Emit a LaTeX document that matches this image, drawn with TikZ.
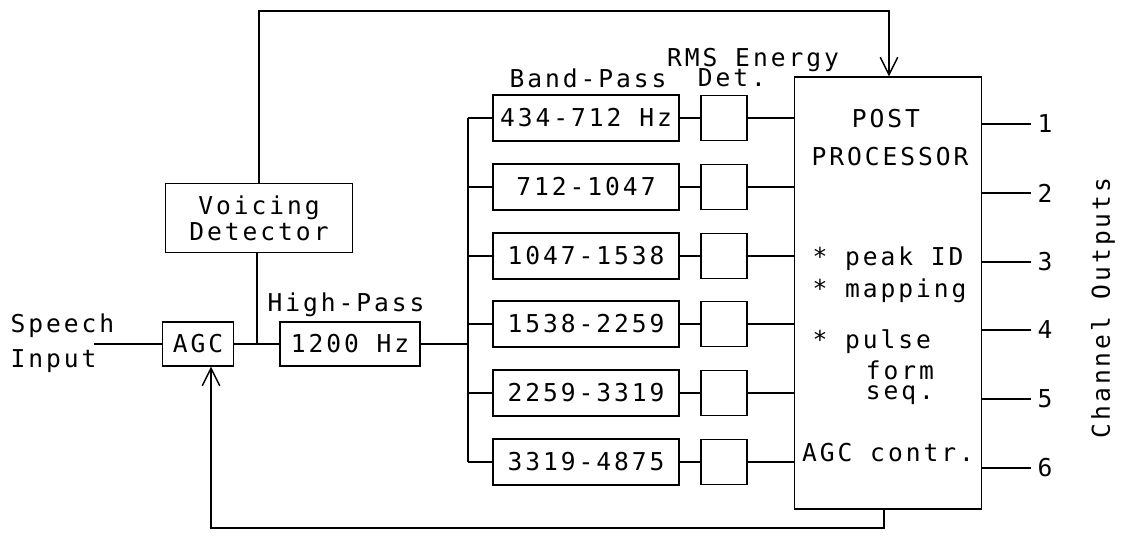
\documentclass[tikz,border=0pt]{standalone}
\usepackage{fontspec}
\usetikzlibrary{arrows.meta}
\newfontfamily\plotfont[LetterSpace=12]{DejaVu Sans Mono}

\begin{document}
\begin{tikzpicture}[x=0.02cm,y=-0.02cm,line width=0.8pt,
  font=\plotfont\fontsize{14}{15}\selectfont,
  box/.style={draw,inner sep=0pt},
  fb/.style={-{Straight Barb[length=10pt,width=10pt]}}]
\useasboundingbox (0,0) rectangle (1122,535);
% input side
\node[align=left,anchor=west](spin) at (4,343){Speech\\[5pt]Input};
\coordinate (spend) at (94,344);
\node[box,minimum width=1.42cm,minimum height=0.88cm](agc) at (198,344){AGC};
\node[box,minimum width=2.8cm,minimum height=0.88cm](hp) at (350,344){1200 Hz};
\node (hplab) at (346,305){High-Pass};
\node[box,minimum width=3.74cm,minimum height=1.38cm,align=center](vd) at (259,218){Voicing\\Detector};
\coordinate (jv) at (257,344);
\coordinate (bus) at (468,344);
\draw (spend) -- (agc.west);
\draw (agc.east) -- (hp.west);
\draw (vd.south -| jv) -- (jv);
\draw (hp.east) -- (bus);
% filter bank
\node (bplab) at (588,78){Band-Pass};
\node (rmslab) at (753,60){RMS Energy};
\node (detlab) at (732,78){Det.};
\node[box,minimum width=3.72cm,minimum height=0.92cm](bp1) at (586,118){434-712 Hz};
\node[box,minimum width=3.72cm,minimum height=0.92cm](bp2) at (586,187){712-1047};
\node[box,minimum width=3.72cm,minimum height=0.92cm](bp3) at (586,256){1047-1538};
\node[box,minimum width=3.72cm,minimum height=0.92cm](bp4) at (586,324){1538-2259};
\node[box,minimum width=3.72cm,minimum height=0.92cm](bp5) at (586,393){2259-3319};
\node[box,minimum width=3.72cm,minimum height=0.92cm](bp6) at (586,462){3319-4875};
\node[box,minimum width=0.92cm,minimum height=0.9cm](rms1) at (724,118){};
\node[box,minimum width=0.92cm,minimum height=0.9cm](rms2) at (724,187){};
\node[box,minimum width=0.92cm,minimum height=0.9cm](rms3) at (724,256){};
\node[box,minimum width=0.92cm,minimum height=0.9cm](rms4) at (724,324){};
\node[box,minimum width=0.92cm,minimum height=0.9cm](rms5) at (724,393){};
\node[box,minimum width=0.92cm,minimum height=0.9cm](rms6) at (724,462){};
\draw (bus |- bp1.west) -- (bus |- bp6.west);
\draw (bus |- bp1.west) -- (bp1.west);
\draw (bus |- bp2.west) -- (bp2.west);
\draw (bus |- bp3.west) -- (bp3.west);
\draw (bus |- bp4.west) -- (bp4.west);
\draw (bus |- bp5.west) -- (bp5.west);
\draw (bus |- bp6.west) -- (bp6.west);
\draw (bp1) -- (rms1);
\draw (bp2) -- (rms2);
\draw (bp3) -- (rms3);
\draw (bp4) -- (rms4);
\draw (bp5) -- (rms5);
\draw (bp6) -- (rms6);
% post processor
\node[box,minimum width=3.74cm,minimum height=8.64cm](pp) at (888,293){};
\node (pptxa) at (886,119){POST};
\node (pptxb) at (890,157){PROCESSOR};
\node[anchor=west] (pptxc) at (806,259){* peak ID};
\node[anchor=west] (pptxd) at (806,291){* mapping};
\node[anchor=west] (pptxe) at (806,342){* pulse};
\node[align=center] (pptxf) at (900,383){form\\[-3.5pt]seq.};
\node (pptxh) at (888,453){AGC contr.};
\draw (rms1) -- (rms1 -| pp.west);
\draw (rms2) -- (rms2 -| pp.west);
\draw (rms3) -- (rms3 -| pp.west);
\draw (rms4) -- (rms4 -| pp.west);
\draw (rms5) -- (rms5 -| pp.west);
\draw (rms6) -- (rms6 -| pp.west);
% outputs
\node (out1) at (1045,124){1};
\node (out2) at (1045,193){2};
\node (out3) at (1045,262){3};
\node (out4) at (1045,330){4};
\node (out5) at (1045,399){5};
\node (out6) at (1045,468){6};
\draw (pp.east |- out1) -- (out1);
\draw (pp.east |- out2) -- (out2);
\draw (pp.east |- out3) -- (out3);
\draw (pp.east |- out4) -- (out4);
\draw (pp.east |- out5) -- (out5);
\draw (pp.east |- out6) -- (out6);
\node[rotate=90] (chout) at (1103,308){Channel Outputs};
% feedback paths
\coordinate (ftop) at (889,11);
\coordinate (fbot) at (884,528);
\coordinate (fagc) at (211,528);
\draw[fb] (vd.north) |- (ftop) -- (ftop |- pp.north);
\draw[fb] (fbot |- pp.south) -- (fbot) -- (fagc) -- (fagc |- agc.south);
\end{tikzpicture}
\end{document}
